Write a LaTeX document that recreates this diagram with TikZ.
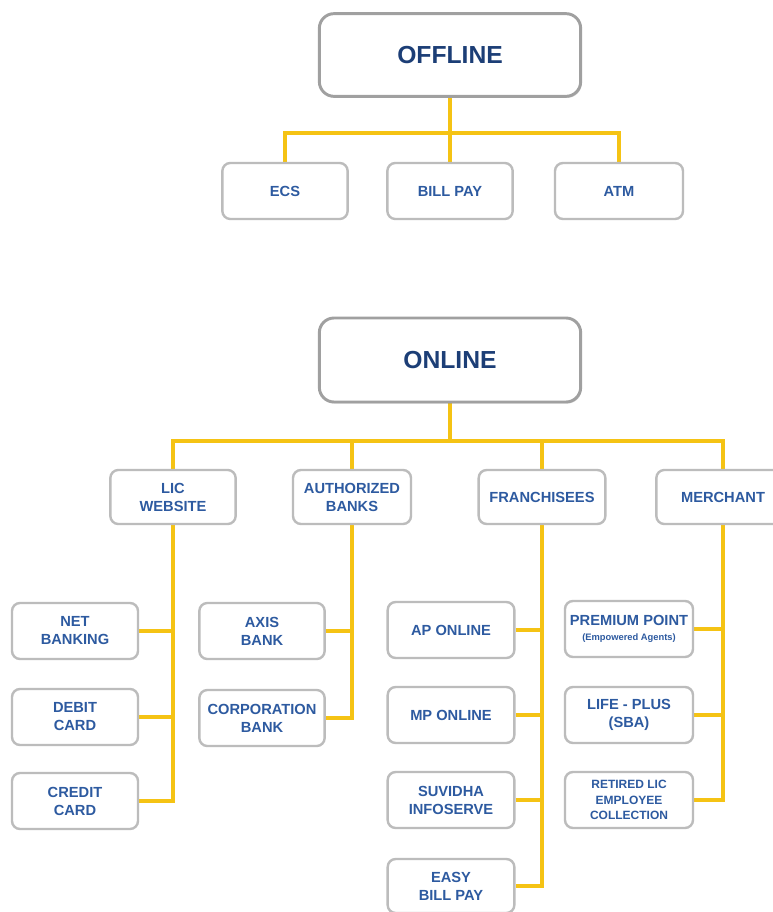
\documentclass[tikz,border=0pt]{standalone}
\usepackage{fontspec}
\setmainfont{Liberation Sans}
\usetikzlibrary{shadows}
\definecolor{linkc}{RGB}{245,195,20}
\definecolor{bigtxt}{RGB}{28,62,118}
\definecolor{smtxt}{RGB}{45,90,160}
\definecolor{bord}{RGB}{188,188,188}
\definecolor{bigbord}{RGB}{160,160,160}
\pgfdeclarelayer{bottom}
\pgfdeclarelayer{background}
\pgfsetlayers{bottom,background,main}
\begin{document}
\begin{tikzpicture}[x=0.75pt,y=-0.75pt,
 bigbox/.style={draw=bigbord, line width=2.2pt, rounded corners=11pt, fill=white,
   minimum width=196pt, minimum height=62pt,
   font=\fontsize{18.5}{22}\selectfont\bfseries, text=bigtxt,
   drop shadow={shadow xshift=0.8pt, shadow yshift=-1.2pt, opacity=0.3}},
 leaf/.style={draw=bord, line width=1.8pt, rounded corners=6pt, fill=white,
   minimum width=94pt, minimum height=42pt, align=center, inner sep=1pt,
   font=\fontsize{11}{13.5}\selectfont\bfseries, text=smtxt},
 conn/.style={draw=linkc, line width=3pt}
]
\useasboundingbox (0,0) rectangle (773,912);
\clip (0,0) rectangle (773,912);
\begin{pgfonlayer}{bottom}
\fill[white] (0,0) rectangle (773,912);
\end{pgfonlayer}

% ---------- OFFLINE ----------
\node[bigbox] (off) at (450,55) {OFFLINE};
\node[leaf] (ecs) at (285,191) {ECS};
\node[leaf] (billpay) at (450,191) {BILL PAY};
\node[leaf, minimum width=96pt] (atm) at (619,191) {ATM};
\coordinate (offbus) at (450,133);

% ---------- ONLINE ----------
\node[bigbox, minimum height=63pt] (on) at (450,360) {ONLINE};
\coordinate (onbus) at (450,441);

\node[leaf, minimum height=40.5pt] (lic) at (173,497) {LIC\\WEBSITE};
\node[leaf, minimum width=88.5pt, minimum height=40.5pt] (auth) at (352,497) {AUTHORIZED\\BANKS};
\node[leaf, minimum width=95pt, minimum height=40.5pt] (fran) at (542,497) {FRANCHISEES};
\node[leaf, minimum width=100pt, minimum height=40.5pt] (merch) at (723,497) {MERCHANT};

% LIC website children
\node[leaf, minimum width=94.5pt] (net) at (75,631) {NET\\BANKING};
\node[leaf, minimum width=94.5pt] (debit) at (75,717) {DEBIT\\CARD};
\node[leaf, minimum width=94.5pt] (credit) at (75,801) {CREDIT\\CARD};

% Authorized banks children
\node[leaf, minimum width=94pt] (axis) at (262,631) {AXIS\\BANK};
\node[leaf, minimum width=94pt] (corp) at (262,718) {CORPORATION\\BANK};

% Franchisees children
\node[leaf, minimum width=95pt] (ap) at (451,630) {AP ONLINE};
\node[leaf, minimum width=95pt] (mp) at (451,715) {MP ONLINE};
\node[leaf, minimum width=95pt] (suv) at (451,800) {SUVIDHA\\INFOSERVE};
\node[leaf, minimum width=95pt, minimum height=40.5pt] (easy) at (451,886) {EASY\\BILL PAY};

% Merchant children
\node[leaf, minimum width=96pt] (prem) at (629,629) {PREMIUM POINT\\[-2pt]{\fontsize{7}{8}\selectfont (Empowered Agents)}};
\node[leaf, minimum width=96pt] (life) at (629,715) {LIFE - PLUS\\(SBA)};
\node[leaf, minimum width=96pt, font=\fontsize{9}{11.5}\selectfont\bfseries] (ret) at (629,800) {RETIRED LIC\\EMPLOYEE\\COLLECTION};

% ---------- connectors ----------
\begin{pgfonlayer}{background}
\draw[conn] (off.south) -- (billpay.north);
\draw[conn] (ecs.north) |- (offbus) -| (atm.north);

\draw[conn] (on.south) -- (onbus);
\draw[conn] (lic.north) |- (onbus) -| (merch.north);
\draw[conn] (auth.north) -- (auth.north |- onbus);
\draw[conn] (fran.north) -- (fran.north |- onbus);

\draw[conn] (lic.south) |- (credit.east);
\draw[conn] (net.east) -- (net.east -| lic.south);
\draw[conn] (debit.east) -- (debit.east -| lic.south);

\draw[conn] (auth.south) |- (corp.east);
\draw[conn] (axis.east) -- (axis.east -| auth.south);

\draw[conn] (fran.south) |- (easy.east);
\draw[conn] (ap.east) -- (ap.east -| fran.south);
\draw[conn] (mp.east) -- (mp.east -| fran.south);
\draw[conn] (suv.east) -- (suv.east -| fran.south);

\draw[conn] (merch.south) |- (ret.east);
\draw[conn] (prem.east) -- (prem.east -| merch.south);
\draw[conn] (life.east) -- (life.east -| merch.south);
\end{pgfonlayer}
\end{tikzpicture}
\end{document}
